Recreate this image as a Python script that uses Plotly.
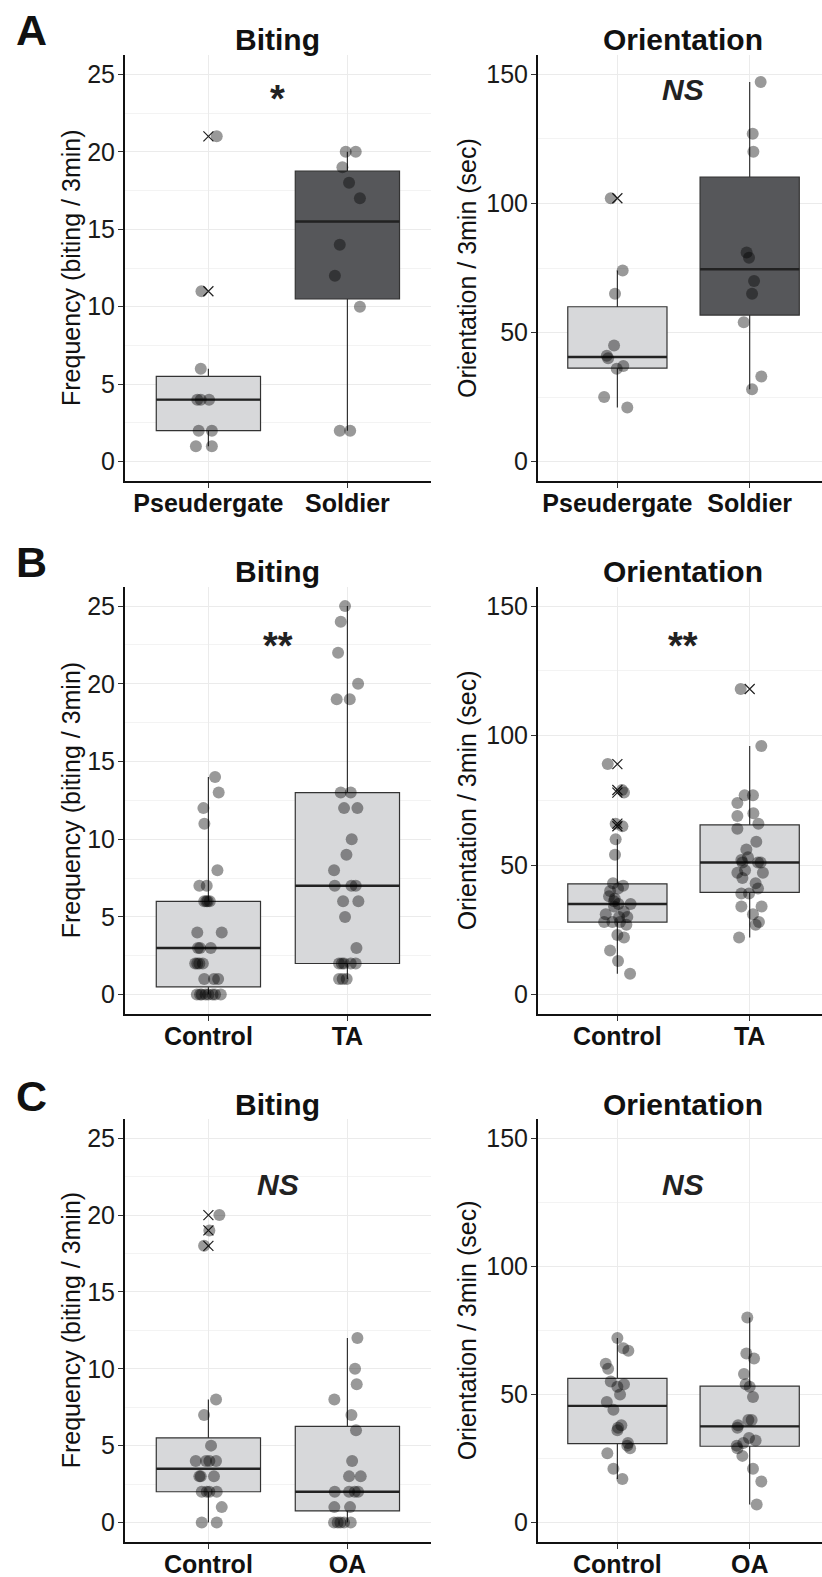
import numpy as np
import plotly.graph_objects as go

# ---------------- data ----------------
cats_A = ["Pseudergate", "Soldier"]
cats_B = ["Control", "TA"]
cats_C = ["Control", "OA"]

bite_ticks = [0, 5, 10, 15, 20, 25]
ori_ticks = [0, 50, 100, 150]

A_bite_pseud = [21, 11, 6, 4, 4, 4, 2, 2, 1, 1]
A_bite_pseud_jit = [0.06, -0.05, -0.055, -0.08, -0.055, 0.005, -0.07, 0.025, -0.09, 0.025]
A_bite_sold = [20, 20, 19, 18, 17, 14, 12, 10, 2, 2]
A_bite_sold_jit = [-0.012, 0.06, -0.036, 0.012, 0.09, -0.055, -0.09, 0.09, -0.055, 0.02]

A_ori_pseud = [102, 74, 65, 45, 41, 40, 37, 36, 25, 21]
A_ori_pseud_jit = [-0.05, 0.04, -0.018, -0.025, -0.08, -0.07, 0.045, -0.005, -0.1, 0.075]
A_ori_sold = [147, 127, 120, 81, 79, 70, 65, 54, 33, 28]
A_ori_sold_jit = [0.083, 0.023, 0.028, -0.023, -0.005, 0.033, 0.018, -0.045, 0.088, 0.018]

B_bite_ctrl = [14, 13, 12, 11, 8, 7, 7, 6, 6, 6, 6, 4, 4, 3, 3, 3, 2, 2, 2, 2, 1, 1, 1,
               0, 0, 0, 0, 0, 0, 0, 0]
B_bite_ctrl_jit = [0.048, 0.074, -0.036, -0.029, 0.065, -0.065, -0.012, -0.03, -0.015, -0.005, 0.01,
                   -0.08, 0.096, -0.075, -0.06, 0.017, -0.095, -0.08, -0.065, -0.04, -0.03, 0.04, 0.07,
                   -0.083, -0.06, -0.048, -0.02, 0.0, 0.03, 0.048, 0.089]
B_bite_ta = [25, 24, 22, 20, 19, 19, 13, 13, 12, 12, 10, 9, 8, 7, 7, 7, 6, 6, 5, 3,
             2, 2, 2, 2, 2, 1, 1, 1]
B_bite_ta_jit = [-0.017, -0.048, -0.067, 0.077, -0.077, 0.017, -0.048, 0.024, -0.024, 0.072, 0.031,
                 -0.007, -0.096, -0.091, 0.029, 0.06, -0.031, 0.079, -0.017, 0.065,
                 -0.06, -0.04, -0.024, 0.024, 0.06, -0.06, -0.034, -0.005]

B_ori_ctrl = [89, 79, 78, 66, 65, 60, 54, 43, 42, 41, 40, 38, 37, 36, 35, 35, 34, 32, 31, 30,
              30, 28, 28, 28, 27, 23, 22, 17, 13, 8]
B_ori_ctrl_jit = [-0.073, 0.035, 0.05, -0.013, 0.038, -0.013, -0.018, -0.033, 0.043, 0.005, -0.055,
                  -0.063, -0.02, -0.025, 0.008, 0.1, -0.025, 0.05, -0.088, 0.013, 0.075, -0.1,
                  -0.038, 0.02, 0.068, 0.0, 0.05, -0.055, 0.005, 0.096]
B_ori_ta = [118, 96, 77, 77, 74, 70, 69, 66, 64, 59, 56, 53, 52, 51, 51, 51, 48, 47, 47, 45,
            43, 41, 39, 39, 34, 34, 31, 28, 27, 22]
B_ori_ta_jit = [-0.068, 0.088, -0.038, 0.025, -0.093, 0.028, -0.093, 0.066, -0.093, 0.05, -0.025,
                -0.013, -0.063, 0.063, -0.055, 0.083, -0.035, -0.093, 0.1, -0.055, 0.045, 0.063,
                -0.063, -0.005, -0.063, 0.09, 0.025, 0.07, 0.045, -0.08]

C_bite_ctrl = [20, 19, 18, 8, 7, 5, 4, 4, 4, 4, 3, 3, 3, 2, 2, 2, 2, 1, 0, 0]
C_bite_ctrl_jit = [0.079, 0.007, -0.031, 0.055, -0.031, 0.019, -0.091, -0.017, 0.007, 0.055,
                   -0.065, -0.055, 0.04, -0.048, -0.012, 0.007, 0.06, 0.096, -0.048, 0.06]
C_bite_oa = [12, 10, 9, 8, 7, 6, 4, 3, 3, 2, 2, 2, 2, 1, 1, 0, 0, 0, 0, 0]
C_bite_oa_jit = [0.072, 0.055, 0.067, -0.094, 0.029, 0.062, 0.034, 0.012, 0.096, -0.091, 0.012,
                 0.053, 0.077, -0.094, 0.019, -0.096, -0.07, -0.05, -0.024, 0.024]

C_ori_ctrl = [72, 68, 67, 62, 60, 55, 54, 53, 50, 47, 44, 38, 37, 36, 31, 30, 29, 27, 21, 17]
C_ori_ctrl_jit = [0.0, 0.045, 0.083, -0.088, -0.07, -0.05, 0.05, 0.0, 0.02, -0.08, -0.03, 0.03,
                  0.005, 0.0, 0.08, 0.075, 0.096, -0.076, -0.03, 0.038]
C_ori_oa = [80, 66, 64, 58, 54, 53, 49, 40, 40, 38, 37, 33, 32, 31, 30, 29, 26, 21, 16, 7]
C_ori_oa_jit = [-0.018, -0.025, 0.033, -0.043, -0.03, 0.0, 0.025, -0.01, 0.015, -0.088, -0.093,
                -0.005, 0.045, -0.048, -0.098, -0.093, -0.055, 0.025, 0.088, 0.053]

# ---------------- styling ----------------
W, H = 822, 1577
FONT = "Liberation Sans, Arial, sans-serif"
LIGHT = "#D7D8DA"
DARK = "#56575A"
EDGE = "#333333"


def px(x):
    return x / W


def py(y):
    return 1 - y / H


col_x = [(125, 430.8), (538, 822)]
col_range = [[-0.6, 1.6], [-0.6, -0.6 + (822 - 538) / 132.3]]
col_center = [277.9, 683.0]
row_y = [(55, 481), (586.7, 1014), (1119, 1541.7)]

panels = [
    dict(title="Biting", cats=cats_A, groups=[A_bite_pseud, A_bite_sold],
         jit=[A_bite_pseud_jit, A_bite_sold_jit], fills=[LIGHT, DARK], kind="bite", sig="*"),
    dict(title="Orientation", cats=cats_A, groups=[A_ori_pseud, A_ori_sold],
         jit=[A_ori_pseud_jit, A_ori_sold_jit], fills=[LIGHT, DARK], kind="ori", sig="NS"),
    dict(title="Biting", cats=cats_B, groups=[B_bite_ctrl, B_bite_ta],
         jit=[B_bite_ctrl_jit, B_bite_ta_jit], fills=[LIGHT, LIGHT], kind="bite", sig="**"),
    dict(title="Orientation", cats=cats_B, groups=[B_ori_ctrl, B_ori_ta],
         jit=[B_ori_ctrl_jit, B_ori_ta_jit], fills=[LIGHT, LIGHT], kind="ori", sig="**"),
    dict(title="Biting", cats=cats_C, groups=[C_bite_ctrl, C_bite_oa],
         jit=[C_bite_ctrl_jit, C_bite_oa_jit], fills=[LIGHT, LIGHT], kind="bite", sig="NS"),
    dict(title="Orientation", cats=cats_C, groups=[C_ori_ctrl, C_ori_oa],
         jit=[C_ori_ctrl_jit, C_ori_oa_jit], fills=[LIGHT, LIGHT], kind="ori", sig="NS"),
]


def box_stats(v):
    a = np.asarray(v, dtype=float)
    q1, med, q3 = np.percentile(a, [25, 50, 75])
    iqr = q3 - q1
    lo_lim, hi_lim = q1 - 1.5 * iqr, q3 + 1.5 * iqr
    inside = a[(a >= lo_lim) & (a <= hi_lim)]
    out = a[(a < lo_lim) | (a > hi_lim)]
    return q1, med, q3, inside.min(), inside.max(), out


fig = go.Figure()
annotations = []
BW = 0.75

for i, p in enumerate(panels):
    r, c = divmod(i, 2)
    n = i + 1
    xa = "x" if n == 1 else f"x{n}"
    ya = "y" if n == 1 else f"y{n}"
    xkey = "xaxis" if n == 1 else f"xaxis{n}"
    ykey = "yaxis" if n == 1 else f"yaxis{n}"

    for k, (vals, jit, fill) in enumerate(zip(p["groups"], p["jit"], p["fills"])):
        q1, med, q3, lf, uf, out = box_stats(vals)
        fig.add_trace(go.Box(
            x=[k], q1=[q1], median=[med], q3=[q3], lowerfence=[lf], upperfence=[uf],
            width=BW, fillcolor=fill, line=dict(color=EDGE, width=1.2),
            whiskerwidth=0, boxpoints=False, showlegend=False, hoverinfo="skip",
            xaxis=xa, yaxis=ya))
        fig.add_trace(go.Scatter(
            x=[k - BW / 2, k + BW / 2], y=[med, med], mode="lines",
            line=dict(color="#222222", width=2.4), showlegend=False, hoverinfo="skip",
            xaxis=xa, yaxis=ya))
        if len(out):
            fig.add_trace(go.Scatter(
                x=[k] * len(out), y=list(out), mode="markers",
                marker=dict(symbol="x-thin-open", size=10, color="#222222",
                            line=dict(color="#222222", width=1.2)),
                showlegend=False, hoverinfo="skip", xaxis=xa, yaxis=ya))
        fig.add_trace(go.Scatter(
            x=[k + j for j in jit], y=vals, mode="markers",
            marker=dict(size=12, color="rgba(0,0,0,0.4)", line=dict(width=0)),
            showlegend=False, hoverinfo="skip", xaxis=xa, yaxis=ya))

    x0, x1 = col_x[c]
    y0, y1 = row_y[r]
    fig.update_layout(**{
        xkey: dict(domain=[px(x0), px(x1)], range=col_range[c], anchor=ya,
                   tickvals=[0, 1], ticktext=p["cats"],
                   tickfont=dict(family=FONT, size=25, color="#111111", weight="bold"),
                   showline=True, linecolor="#111111", linewidth=2,
                   ticks="outside", ticklen=5, tickwidth=1.3, tickcolor="#333333",
                   ticklabelstandoff=-6,
                   showgrid=True, gridcolor="#EBEBEB", gridwidth=1, zeroline=False,
                   fixedrange=True),
        ykey: dict(domain=[py(y1), py(y0)],
                   range=[-1.25, 26.25] if p["kind"] == "bite" else [-7.5, 157.5],
                   anchor=xa,
                   tickvals=bite_ticks if p["kind"] == "bite" else ori_ticks,
                   tickfont=dict(family=FONT, size=25, color="#1a1a1a"),
                   showline=True, linecolor="#111111", linewidth=2,
                   ticks="outside", ticklen=5, tickwidth=1.3, tickcolor="#333333",
                   ticklabelstandoff=-2,
                   showgrid=True, gridcolor="#EBEBEB", gridwidth=1, zeroline=False,
                   minor=dict(dtick=2.5 if p["kind"] == "bite" else 25, showgrid=True,
                              gridcolor="#F3F3F3", gridwidth=0.8, ticks=""),
                   fixedrange=True),
    })

    cx = col_center[c]
    annotations.append(dict(x=px(cx), y=py(y0 - 15), xref="paper", yref="paper",
                            text="<b>%s</b>" % p["title"], showarrow=False,
                            font=dict(family=FONT, size=30, color="#111111"),
                            xanchor="center", yanchor="middle"))
    ytxt = "Frequency (biting / 3min)" if p["kind"] == "bite" else "Orientation / 3min (sec)"
    annotations.append(dict(x=px(71 if c == 0 else 467), y=py((y0 + y1) / 2), xref="paper", yref="paper",
                            text=ytxt, textangle=-90, showarrow=False,
                            font=dict(family=FONT, size=25, color="#111111"),
                            xanchor="center", yanchor="middle"))
    if p["sig"] == "NS":
        stxt, ssize, yoff = "<b><i>NS</i></b>", 30, 1
    else:
        stxt, ssize, yoff = "<b>%s</b>" % p["sig"], 38, 11
    sig_y = [88, 635, 1183][r]
    annotations.append(dict(x=px(cx), y=py(sig_y + yoff), xref="paper", yref="paper",
                            text=stxt, showarrow=False,
                            font=dict(family=FONT, size=ssize, color="#222222"),
                            xanchor="center", yanchor="middle"))

for letter, ly in zip(["A", "B", "C"], [28, 560, 1094]):
    annotations.append(dict(x=px(31), y=py(ly + 2), xref="paper", yref="paper",
                            text="<b>%s</b>" % letter, showarrow=False,
                            font=dict(family=FONT, size=43, color="#111111"),
                            xanchor="center", yanchor="middle"))

fig.update_layout(width=W, height=H, margin=dict(l=0, r=0, t=0, b=0),
                  paper_bgcolor="white", plot_bgcolor="white",
                  boxmode="overlay", showlegend=False, annotations=annotations)

fig.write_html("out.html")
